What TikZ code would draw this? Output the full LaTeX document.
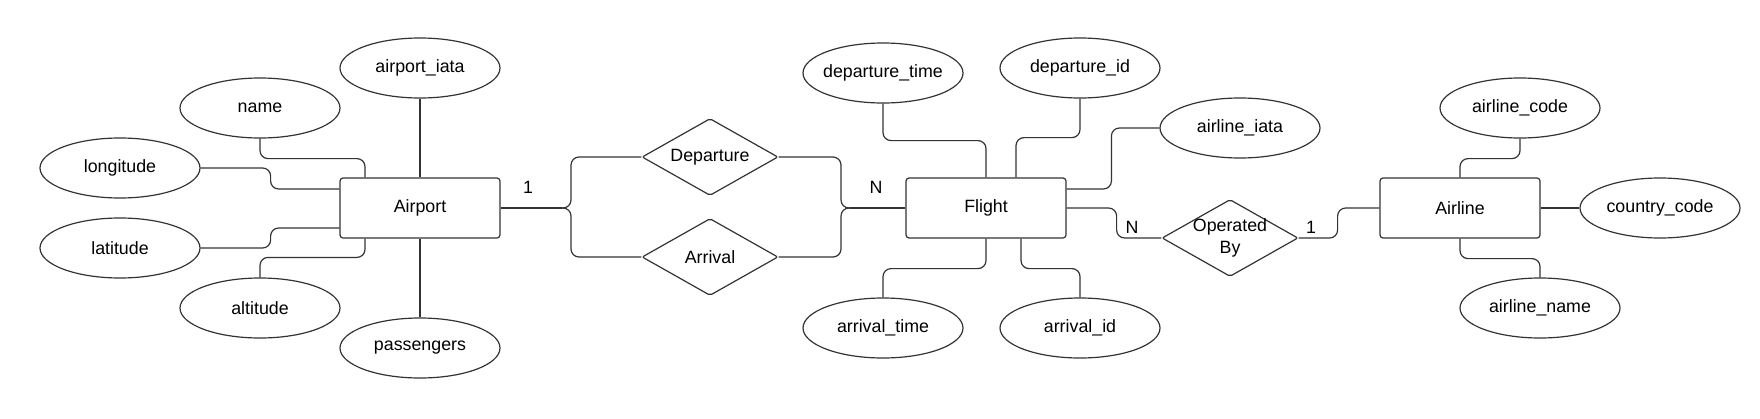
\documentclass[tikz,border=0pt]{standalone}
\usepackage{fontspec}
\setmainfont{Liberation Sans}
\usetikzlibrary{shapes.geometric}

\begin{document}
\begin{tikzpicture}[x=1pt,y=-1pt,
	every node/.style={font=\fontsize{17.8}{22}\selectfont},
	entity/.style={rectangle,rounded corners=3pt,minimum width=160pt,minimum height=60pt,draw=black!80,line width=1.2pt},
	attrib/.style={ellipse,minimum width=160pt,minimum height=60pt,inner xsep=-6pt,inner ysep=0pt,draw=black!80,line width=1.2pt},
	relation/.style={diamond,aspect=1.77,minimum width=136pt,minimum height=77pt,inner sep=0pt,rounded corners=2pt,draw=black!80,line width=1.2pt},
	link/.style={draw=black!80,line width=1.2pt,rounded corners=8pt}]
	\useasboundingbox (0,0) rectangle (1760,418);

	% entities and relations
	\draw[] (420,208) node[entity] (Airport) {Airport};
	\draw[] (986,208) node[entity] (Flight) {Flight};
	\draw[] (1460,208) node[entity] (Airline) {Airline};
	\draw[] (710,157) node[relation] (Departure) {Departure};
	\draw[] (710,257) node[relation] (Arrival) {Arrival};
	\draw[] (1230,238) node[relation,align=center,inner xsep=-4pt] (OperatedBy) {Operated\\By};

	% attributes
	\draw[] (420,68) node[attrib] (AirportIata) {airport\_iata};
	\draw[] (260,108) node[attrib] (Name) {name};
	\draw[] (120,168) node[attrib] (Longitude) {longitude};
	\draw[] (120,248) node[attrib] (Latitude) {latitude};
	\draw[] (260,308) node[attrib] (Altitude) {altitude};
	\draw[] (420,348) node[attrib] (Passengers) {passengers};
	\draw[] (883,73) node[attrib] (DepTime) {departure\_time};
	\draw[] (1080,68) node[attrib] (DepId) {departure\_id};
	\draw[] (1240,128) node[attrib] (AirlineIata) {airline\_iata};
	\draw[] (883,328) node[attrib] (ArrTime) {arrival\_time};
	\draw[] (1080,328) node[attrib] (ArrId) {arrival\_id};
	\draw[] (1520,108) node[attrib] (AirlineCode) {airline\_code};
	\draw[] (1660,208) node[attrib] (CountryCode) {country\_code};
	\draw[] (1540,308) node[attrib] (AirlineName) {airline\_name};

	% cardinalities
	\draw[] (528,187) node (OneLeft) {1};
	\draw[] (876,187) node (ManyLeft) {N};
	\draw[] (1132,227) node (ManyRight) {N};
	\draw[] (1311,227) node (OneRight) {1};

	\coordinate (Jleft) at (562,208);
	\coordinate (Jright) at (850,208);

	% Airport
	\draw[link] (AirportIata.south) -- (Airport.north);
	\draw[link] (Airport.south) -- (Passengers.north);
	\draw[link] (Name.south) -- ++(0,20) -| ([xshift=-55pt]Airport.north);
	\draw[link] (Altitude.north) -- ++(0,-20) -| ([xshift=-55pt]Airport.south);
	\draw[link] (Longitude.east) -- ++(70,0) |- ([yshift=19pt]Airport.west);
	\draw[link] (Latitude.east) -- ++(70,0) |- ([yshift=-20pt]Airport.west);

	% Departure / Arrival
	\draw[link] (Airport.east) -- (Jleft);
	\draw[link] (Departure.west) -| ([xshift=9pt]Jleft) -- (Jleft);
	\draw[link] (Arrival.west) -| ([xshift=9pt]Jleft) -- (Jleft);
	\draw[link] (Departure.east) -| ([xshift=-9pt]Jright) -- (Jright);
	\draw[link] (Arrival.east) -| ([xshift=-9pt]Jright) -- (Jright);
	\draw[link] (Jright) -- (Flight.west);

	% Flight
	\draw[link] (DepTime.south) -- ++(0,37) -| (Flight.north);
	\draw[link] (DepId.south) -- ++(0,39) -| ([xshift=30pt]Flight.north);
	\draw[link] (AirlineIata.west) -- ++(-48,0) |- ([yshift=19pt]Flight.east);
	\draw[link] (Flight.south) -- ++(0,30) -| (ArrTime.north);
	\draw[link] ([xshift=35pt]Flight.south) -- ++(0,30) -| (ArrId.north);
	\draw[link] (Flight.east) -- ++(50,0) |- (OperatedBy.west);
	\draw[link] (OperatedBy.east) -- ++(39,0) |- (Airline.west);

	% Airline
	\draw[link] (AirlineCode.south) -- ++(0,20) -| (Airline.north);
	\draw[link] (Airline.east) -- (CountryCode.west);
	\draw[link] (Airline.south) -- ++(0,20) -| (AirlineName.north);
\end{tikzpicture}
\end{document}
